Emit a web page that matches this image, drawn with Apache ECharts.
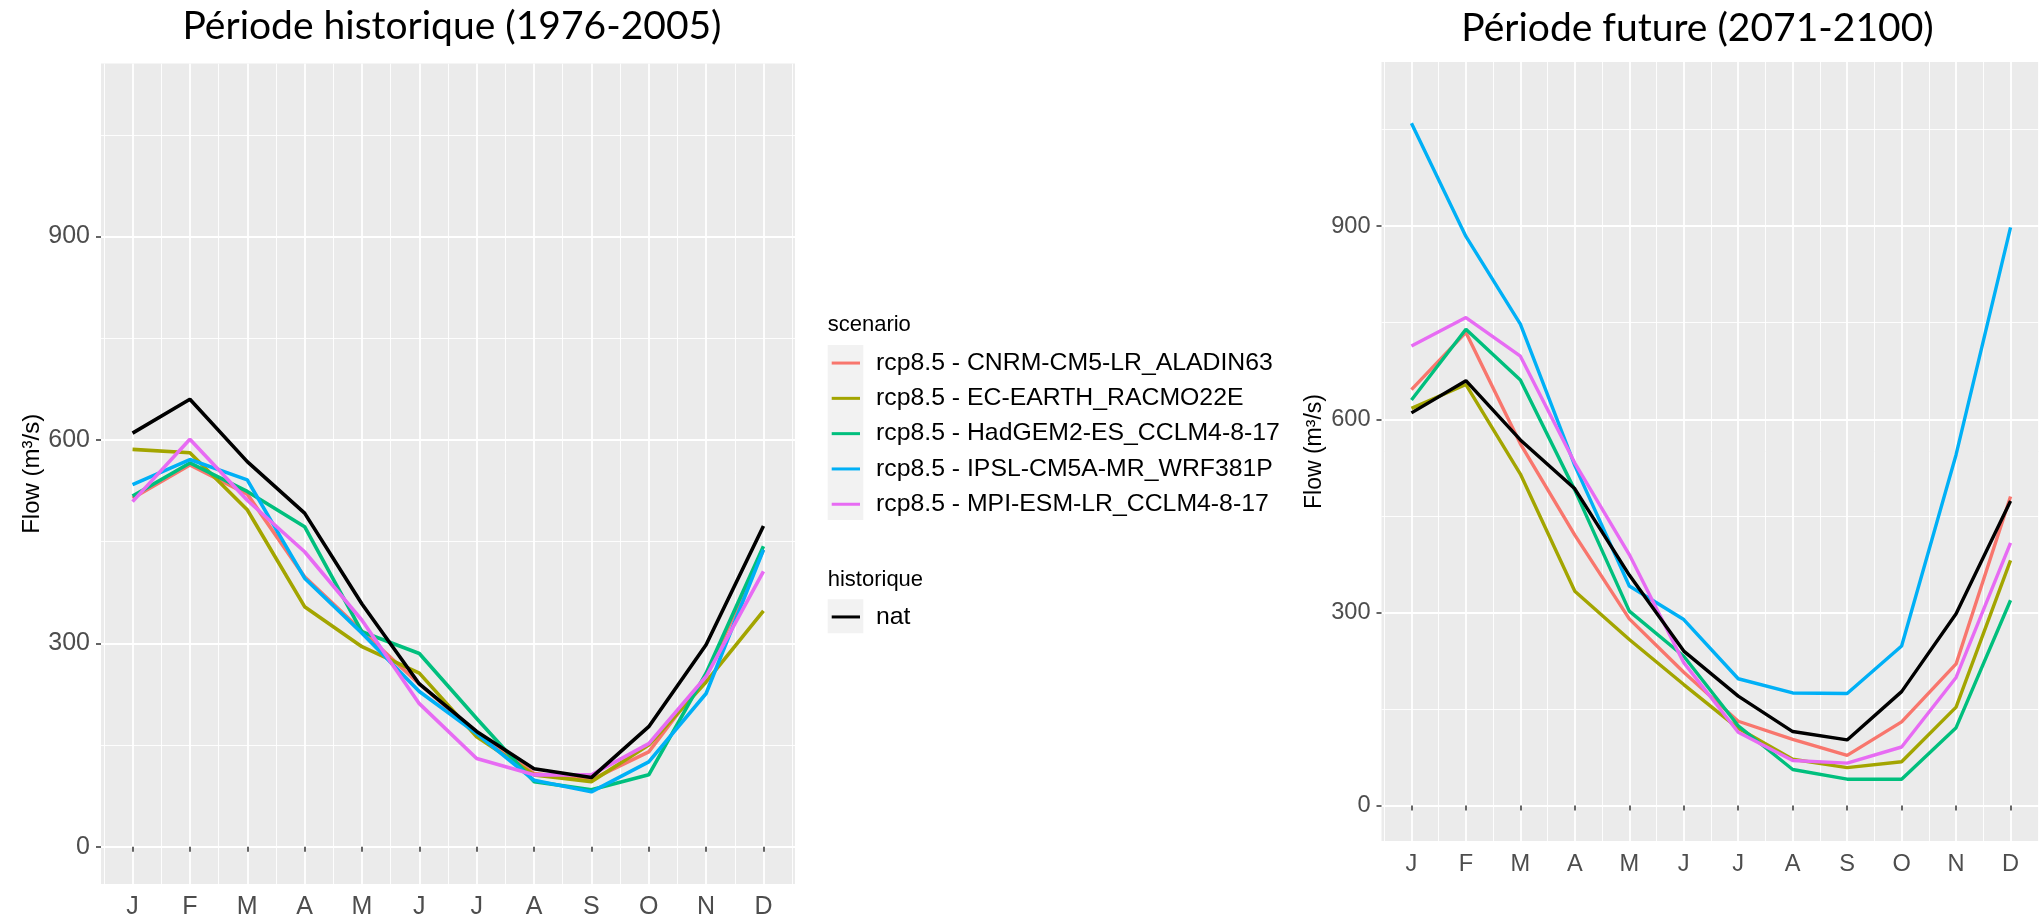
<!DOCTYPE html>
<html>
<head>
    <meta charset="utf-8">
    <title>Flow - historique / future</title>
    <script src="https://cdn.jsdelivr.net/npm/echarts@6/dist/echarts.min.js"></script>
    <style>
        html, body { margin: 0; padding: 0; background: #ffffff; }
        #chart { width: 2039px; height: 918px; }
    </style>
</head>
<body>
<div id="chart"></div>
<script>
    // axes
    var months = ['J', 'F', 'M', 'A', 'M', 'J', 'J', 'A', 'S', 'O', 'N', 'D'];
    var monthPos = [1, 2, 3, 4, 5, 6, 7, 8, 9, 10, 11, 12];
    var halfMonthPos = [0.5, 1.5, 2.5, 3.5, 4.5, 5.5, 6.5, 7.5, 8.5, 9.5, 10.5, 11.5, 12.5];
    var yMajorTicks = [0, 300, 600, 900];
    var yMinorTicks = [150, 450, 750, 1050];

    var scenarioNames = [
        'rcp8.5 - CNRM-CM5-LR_ALADIN63',
        'rcp8.5 - EC-EARTH_RACMO22E',
        'rcp8.5 - HadGEM2-ES_CCLM4-8-17',
        'rcp8.5 - IPSL-CM5A-MR_WRF381P',
        'rcp8.5 - MPI-ESM-LR_CCLM4-8-17'
    ];
    var scenarioColors = ['#F8766D', '#A3A500', '#00BF7D', '#00B0F6', '#E76BF3'];

    // observed / natural flow (same in both panels)
    var natFlow = [610, 660, 568, 492, 358, 240, 170, 115, 102, 177, 298, 473];

    // Période historique (1976-2005)
    var histCNRM = [514, 563, 520, 398, 318, 240, 167, 108, 99, 140, 251, 438];
    var histECEARTH = [586, 581, 497, 354, 295, 256, 162, 106, 96, 150, 243, 348];
    var histHadGEM = [517, 566, 524, 472, 317, 285, 189, 96, 84, 106, 256, 443];
    var histIPSL = [534, 571, 541, 396, 315, 229, 167, 98, 81, 125, 226, 438];
    var histMPI = [509, 601, 511, 435, 334, 211, 130, 106, 106, 152, 251, 406];

    // Période future (2071-2100)
    var futCNRM = [646, 735, 562, 420, 290, 207, 131, 103, 78, 130, 220, 480];
    var futECEARTH = [617, 654, 515, 333, 258, 188, 120, 72, 59, 68, 153, 381];
    var futHadGEM = [630, 740, 661, 490, 302, 232, 124, 56, 41, 41, 121, 319];
    var futIPSL = [1060, 884, 748, 528, 341, 289, 197, 175, 174, 248, 545, 898];
    var futMPI = [714, 758, 698, 532, 390, 222, 114, 70, 66, 91, 199, 408];

    var histSets = [histCNRM, histECEARTH, histHadGEM, histIPSL, histMPI];
    var futSets = [futCNRM, futECEARTH, futHadGEM, futIPSL, futMPI];

    var FONT = '"Liberation Sans", Arial, sans-serif';

    function toPoints(values) {
        return values.map(function (v, i) { return [monthPos[i], v]; });
    }

    function makeXAxes(gridIndex, fontSize) {
        return [{
            type: 'value', gridIndex: gridIndex, min: 0.45, max: 12.55, position: 'bottom',
            axisLine: { show: false },
            axisTick: { show: true, customValues: monthPos, length: 5, lineStyle: { color: '#333333', width: 1.5 } },
            axisLabel: {
                customValues: monthPos, margin: 11, fontSize: fontSize, color: '#4D4D4D', fontFamily: FONT,
                formatter: function (v) { return months[Math.round(v) - 1]; }
            },
            splitLine: { show: true, lineStyle: { color: '#ffffff', width: 1.8 } }
        }, {
            type: 'value', gridIndex: gridIndex, min: 0.45, max: 12.55, position: 'bottom',
            axisLine: { show: false },
            axisTick: { show: false, customValues: halfMonthPos },
            axisLabel: { show: false, customValues: halfMonthPos },
            splitLine: { show: true, lineStyle: { color: '#ffffff', width: 0.9 } }
        }];
    }

    function makeYAxes(gridIndex, fontSize, nameSize, nameGap) {
        return [{
            type: 'value', gridIndex: gridIndex, min: -55, max: 1155, position: 'left',
            name: 'Flow (m³/s)', nameLocation: 'middle', nameGap: nameGap, nameRotate: 90,
            nameTextStyle: { fontSize: nameSize, color: '#000000', fontFamily: FONT },
            axisLine: { show: false },
            axisTick: { show: true, customValues: yMajorTicks, length: 5, lineStyle: { color: '#333333', width: 1.5 } },
            axisLabel: { customValues: yMajorTicks, margin: 11, fontSize: fontSize, color: '#4D4D4D', fontFamily: FONT },
            splitLine: { show: true, lineStyle: { color: '#ffffff', width: 1.8 } }
        }, {
            type: 'value', gridIndex: gridIndex, min: -55, max: 1155, position: 'left',
            axisLine: { show: false },
            axisTick: { show: false, customValues: yMinorTicks },
            axisLabel: { show: false, customValues: yMinorTicks },
            splitLine: { show: true, lineStyle: { color: '#ffffff', width: 0.9 } }
        }];
    }

    function makeSeries(sets, axisIdx, width) {
        var out = [];
        for (var i = 0; i < sets.length; i++) {
            out.push({
                name: scenarioNames[i], type: 'line', xAxisIndex: axisIdx, yAxisIndex: axisIdx,
                data: toPoints(sets[i]), showSymbol: false, symbol: 'none', silent: true,
                lineStyle: { width: width, color: scenarioColors[i] },
                itemStyle: { color: scenarioColors[i] }
            });
        }
        out.push({
            name: 'nat', type: 'line', xAxisIndex: axisIdx, yAxisIndex: axisIdx,
            data: toPoints(natFlow), showSymbol: false, symbol: 'none', silent: true,
            lineStyle: { width: width, color: '#000000' },
            itemStyle: { color: '#000000' }
        });
        return out;
    }

    var chart = echarts.init(document.getElementById('chart'));

    var legendText = { fontSize: 24.8, fontFamily: FONT, color: '#000000', lineHeight: 35.3, padding: [0, 0, 0, 11] };

    var option = {
        animation: false,
        backgroundColor: '#ffffff',
        grid: [
            { left: 101, top: 63.6, width: 694, height: 820.4, show: true, backgroundColor: '#EBEBEB', borderWidth: 0, outerBoundsMode: 'none', containLabel: false },
            { left: 1381.5, top: 62, width: 659, height: 779, show: true, backgroundColor: '#EBEBEB', borderWidth: 0, outerBoundsMode: 'none', containLabel: false }
        ],
        xAxis: makeXAxes(0, 25).concat(makeXAxes(1, 23.6)),
        yAxis: makeYAxes(0, 25, 24, 57).concat(makeYAxes(1, 23.6, 23, 55)),
        legend: [{
            data: scenarioNames, orient: 'vertical', left: 831.7, top: 345.4, padding: 0,
            itemWidth: 28.3, itemHeight: 3, itemGap: 0, icon: 'rect', selectedMode: false,
            textStyle: legendText
        }, {
            data: ['nat'], orient: 'vertical', left: 831.7, top: 599.3, padding: 0,
            itemWidth: 28.3, itemHeight: 3, itemGap: 0, icon: 'rect', selectedMode: false,
            textStyle: legendText
        }],
        graphic: [
            { type: 'rect', left: 827.7, top: 345, shape: { width: 35.6, height: 175 }, style: { fill: '#F2F2F2' }, z: -1 },
            { type: 'rect', left: 827.7, top: 599.3, shape: { width: 35.6, height: 34 }, style: { fill: '#F2F2F2' }, z: -1 },
            { type: 'text', x: 452, y: 26, style: { text: 'Période historique (1976-2005)', font: '39px Lato, sans-serif', fill: '#000000', align: 'center', verticalAlign: 'middle' } },
            { type: 'text', x: 1697.5, y: 28, style: { text: 'Période future (2071-2100)', font: '39px Lato, sans-serif', fill: '#000000', align: 'center', verticalAlign: 'middle' } },
            { type: 'text', x: 827.7, y: 325, style: { text: 'scenario', font: '22px "Liberation Sans", Arial, sans-serif', fill: '#000000', align: 'left', verticalAlign: 'middle' } },
            { type: 'text', x: 827.7, y: 580, style: { text: 'historique', font: '22px "Liberation Sans", Arial, sans-serif', fill: '#000000', align: 'left', verticalAlign: 'middle' } }
        ],
        series: makeSeries(histSets, 0, 3.6).concat(makeSeries(futSets, 2, 3.4))
    };

    chart.setOption(option);
</script>
</body>
</html>
